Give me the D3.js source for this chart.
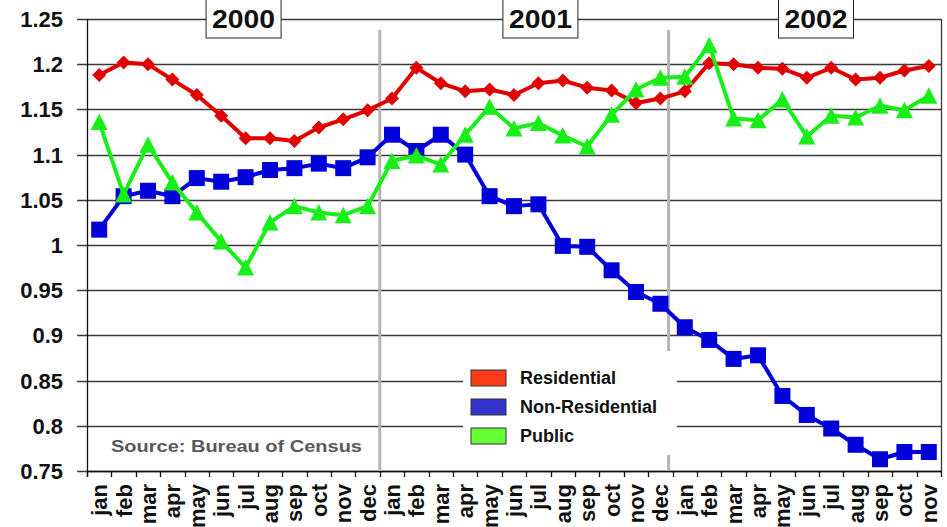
<!DOCTYPE html>
<html>
<head>
<meta charset="utf-8">
<script src="https://cdn.jsdelivr.net/npm/d3@7"></script>
<style>
  body { margin: 0; background: #fff; }
  text { font-family: "Liberation Sans", Arial, sans-serif; font-weight: bold; }
</style>
</head>
<body>
<div id="chart"></div>
<script>
// data, jan 2000 .. nov 2002
var monthNames = ['jan', 'feb', 'mar', 'apr', 'may', 'jun', 'jul', 'aug', 'sep', 'oct', 'nov', 'dec'];
var years = ['2000', '2001', '2002'];

var residential = [1.188, 1.202, 1.200, 1.183, 1.166, 1.143, 1.118, 1.118, 1.115, 1.130, 1.139, 1.149,
    1.162, 1.196, 1.179, 1.170, 1.172, 1.166, 1.179, 1.182, 1.174, 1.171, 1.157, 1.162,
    1.170, 1.201, 1.200, 1.196, 1.195, 1.185, 1.196, 1.183, 1.185, 1.193, 1.198];

var nonResidential = [1.017, 1.054, 1.060, 1.054, 1.074, 1.070, 1.075, 1.083, 1.085, 1.090, 1.085, 1.097,
    1.122, 1.104, 1.122, 1.100, 1.054, 1.043, 1.045, 0.999, 0.998, 0.972, 0.948, 0.935,
    0.909, 0.895, 0.874, 0.878, 0.833, 0.812, 0.797, 0.779, 0.763, 0.771, 0.771];

var publicSpend = [1.136, 1.056, 1.111, 1.069, 1.036, 1.004, 0.975, 1.025, 1.043, 1.036, 1.033, 1.043,
    1.093, 1.099, 1.089, 1.122, 1.153, 1.129, 1.135, 1.121, 1.109, 1.144, 1.172, 1.185,
    1.186, 1.221, 1.140, 1.138, 1.161, 1.120, 1.143, 1.141, 1.154, 1.149, 1.165];

var seriesNames = ['Residential', 'Non-Residential', 'Public'];
var lineColors = ['#e00000', '#0000d8', '#18ee18'];
var swatchColors = ['#ff3a1a', '#3333cc', '#66ff33'];
var yTicks = [0.75, 0.8, 0.85, 0.9, 0.95, 1, 1.05, 1.1, 1.15, 1.2, 1.25];

var svgWidth = 947;
var svgHeight = 527;
var plot = { left: 87, right: 941, top: 19, bottom: 471 };

var svg = d3.select('#chart').append('svg')
    .attr('width', svgWidth)
    .attr('height', svgHeight);

var monthLabels = d3.range(residential.length).map(i => monthNames[i % 12]);

var x = d3.scaleBand()
    .domain(d3.range(monthLabels.length))
    .range([plot.left, plot.right])
    .padding(0);
var bw = x.bandwidth();
var cx = i => x(i) + bw / 2;

var y = d3.scaleLinear()
    .domain([0.75, 1.25])
    .range([plot.bottom, plot.top]);

// gridlines + left tick stubs
svg.append('g').selectAll('line')
    .data(yTicks)
    .enter()
    .append('line')
    .attr('x1', plot.left - 10)
    .attr('x2', plot.right)
    .attr('y1', d => Math.round(y(d)) + 0.5)
    .attr('y2', d => Math.round(y(d)) + 0.5)
    .attr('stroke', '#3a3a3a')
    .attr('stroke-width', 1.3);

// y labels
svg.append('g').selectAll('text')
    .data(yTicks)
    .enter()
    .append('text')
    .attr('x', 63)
    .attr('y', d => y(d) + 8)
    .attr('text-anchor', 'end')
    .attr('font-size', '22px')
    .attr('fill', '#111')
    .text(d => String(+d.toFixed(2)));

// right border
svg.append('line')
    .attr('x1', plot.right + 0.5).attr('x2', plot.right + 0.5)
    .attr('y1', y(1.25)).attr('y2', plot.bottom)
    .attr('stroke', '#3a3a3a').attr('stroke-width', 1.3);

// left axis line
svg.append('line')
    .attr('x1', plot.left + 0.5).attr('x2', plot.left + 0.5)
    .attr('y1', y(1.25)).attr('y2', plot.bottom + 6)
    .attr('stroke', '#111').attr('stroke-width', 1.3);

// bottom axis line
var xAxis = d3.axisBottom(x)
    .tickSize(0)
    .tickFormat('');
svg.append('g')
    .attr('transform', `translate(0, ${plot.bottom})`)
    .call(xAxis)
    .call(g => g.select('.domain').attr('stroke', '#111').attr('stroke-width', 1.3));

// ticks sit on the band edges
svg.append('g').selectAll('line')
    .data(d3.range(monthLabels.length + 1))
    .enter()
    .append('line')
    .attr('x1', i => Math.round(plot.left + i * bw) + 0.5)
    .attr('x2', i => Math.round(plot.left + i * bw) + 0.5)
    .attr('y1', plot.bottom)
    .attr('y2', plot.bottom + 6)
    .attr('stroke', '#111')
    .attr('stroke-width', 1.3);

// month labels rotated
svg.append('g').selectAll('text')
    .data(monthLabels)
    .enter()
    .append('text')
    .attr('transform', (d, i) => `translate(${cx(i) + 8}, 484) rotate(-90)`)
    .attr('text-anchor', 'end')
    .attr('font-size', '22px')
    .attr('fill', '#111')
    .text(d => d);

// year separators
var sepX = [x(12), x(24) - 4];
svg.append('g').selectAll('line')
    .data(sepX)
    .enter()
    .append('line')
    .attr('x1', d => d).attr('x2', d => d)
    .attr('y1', 30).attr('y2', plot.bottom)
    .attr('stroke', '#b4b4b4')
    .attr('stroke-width', 3);

// source note
svg.append('text')
    .attr('x', 111)
    .attr('y', 452)
    .attr('font-family', '"DejaVu Sans", Verdana, sans-serif')
    .attr('font-size', '17px')
    .attr('fill', '#595959')
    .attr('textLength', 251)
    .attr('lengthAdjust', 'spacingAndGlyphs')
    .text('Source: Bureau of Census');

// series
var seriesData = [residential, nonResidential, publicSpend];
var markerPaths = [
    'M0,-7L7,0L0,7L-7,0Z',
    'M-8,-8L8,-8L8,8L-8,8Z',
    'M0,-8.5L8.5,8L-8.5,8Z'
];

var line = d3.line()
    .x((d, i) => cx(i))
    .y(d => y(d));

seriesData.forEach(function (values, s) {
    var g = svg.append('g');
    g.append('path')
        .datum(values)
        .attr('d', line)
        .attr('fill', 'none')
        .attr('stroke', lineColors[s])
        .attr('stroke-width', 4)
        .attr('stroke-linejoin', 'round');
    g.selectAll('path.marker')
        .data(values)
        .enter()
        .append('path')
        .classed('marker', true)
        .attr('transform', (d, i) => `translate(${cx(i)}, ${y(d)})`)
        .attr('d', markerPaths[s])
        .attr('fill', lineColors[s]);
});

// legend
var legend = svg.append('g');
legend.append('rect')
    .attr('x', 463).attr('y', 351)
    .attr('width', 214).attr('height', 104)
    .attr('fill', '#fff');

var legendRows = legend.selectAll('g.row')
    .data(seriesNames)
    .enter()
    .append('g')
    .classed('row', true)
    .attr('transform', (d, i) => `translate(471, ${370 + i * 29})`);

legendRows.append('rect')
    .attr('width', 35).attr('height', 16)
    .attr('fill', (d, i) => swatchColors[i])
    .attr('stroke', '#333')
    .attr('stroke-width', 1);

legendRows.append('text')
    .attr('x', 49).attr('y', 14)
    .attr('font-size', '18px')
    .attr('fill', '#111')
    .text(d => d);

// year boxes
var yearX = [cx(6) - 2, cx(18) + 2, x(30) - 3];
var yearG = svg.append('g').selectAll('g')
    .data(years)
    .enter()
    .append('g')
    .attr('transform', (d, i) => `translate(${yearX[i]}, 0)`);

yearG.append('rect')
    .attr('x', -37.5).attr('y', -1)
    .attr('width', 75).attr('height', 39)
    .attr('fill', '#fff')
    .attr('stroke', '#222')
    .attr('stroke-width', 1);

yearG.append('text')
    .attr('y', 28)
    .attr('text-anchor', 'middle')
    .attr('font-family', '"DejaVu Sans", Verdana, sans-serif')
    .attr('font-size', '26px')
    .attr('fill', '#111')
    .attr('textLength', 63)
    .attr('lengthAdjust', 'spacingAndGlyphs')
    .text(d => d);
</script>
</body>
</html>
